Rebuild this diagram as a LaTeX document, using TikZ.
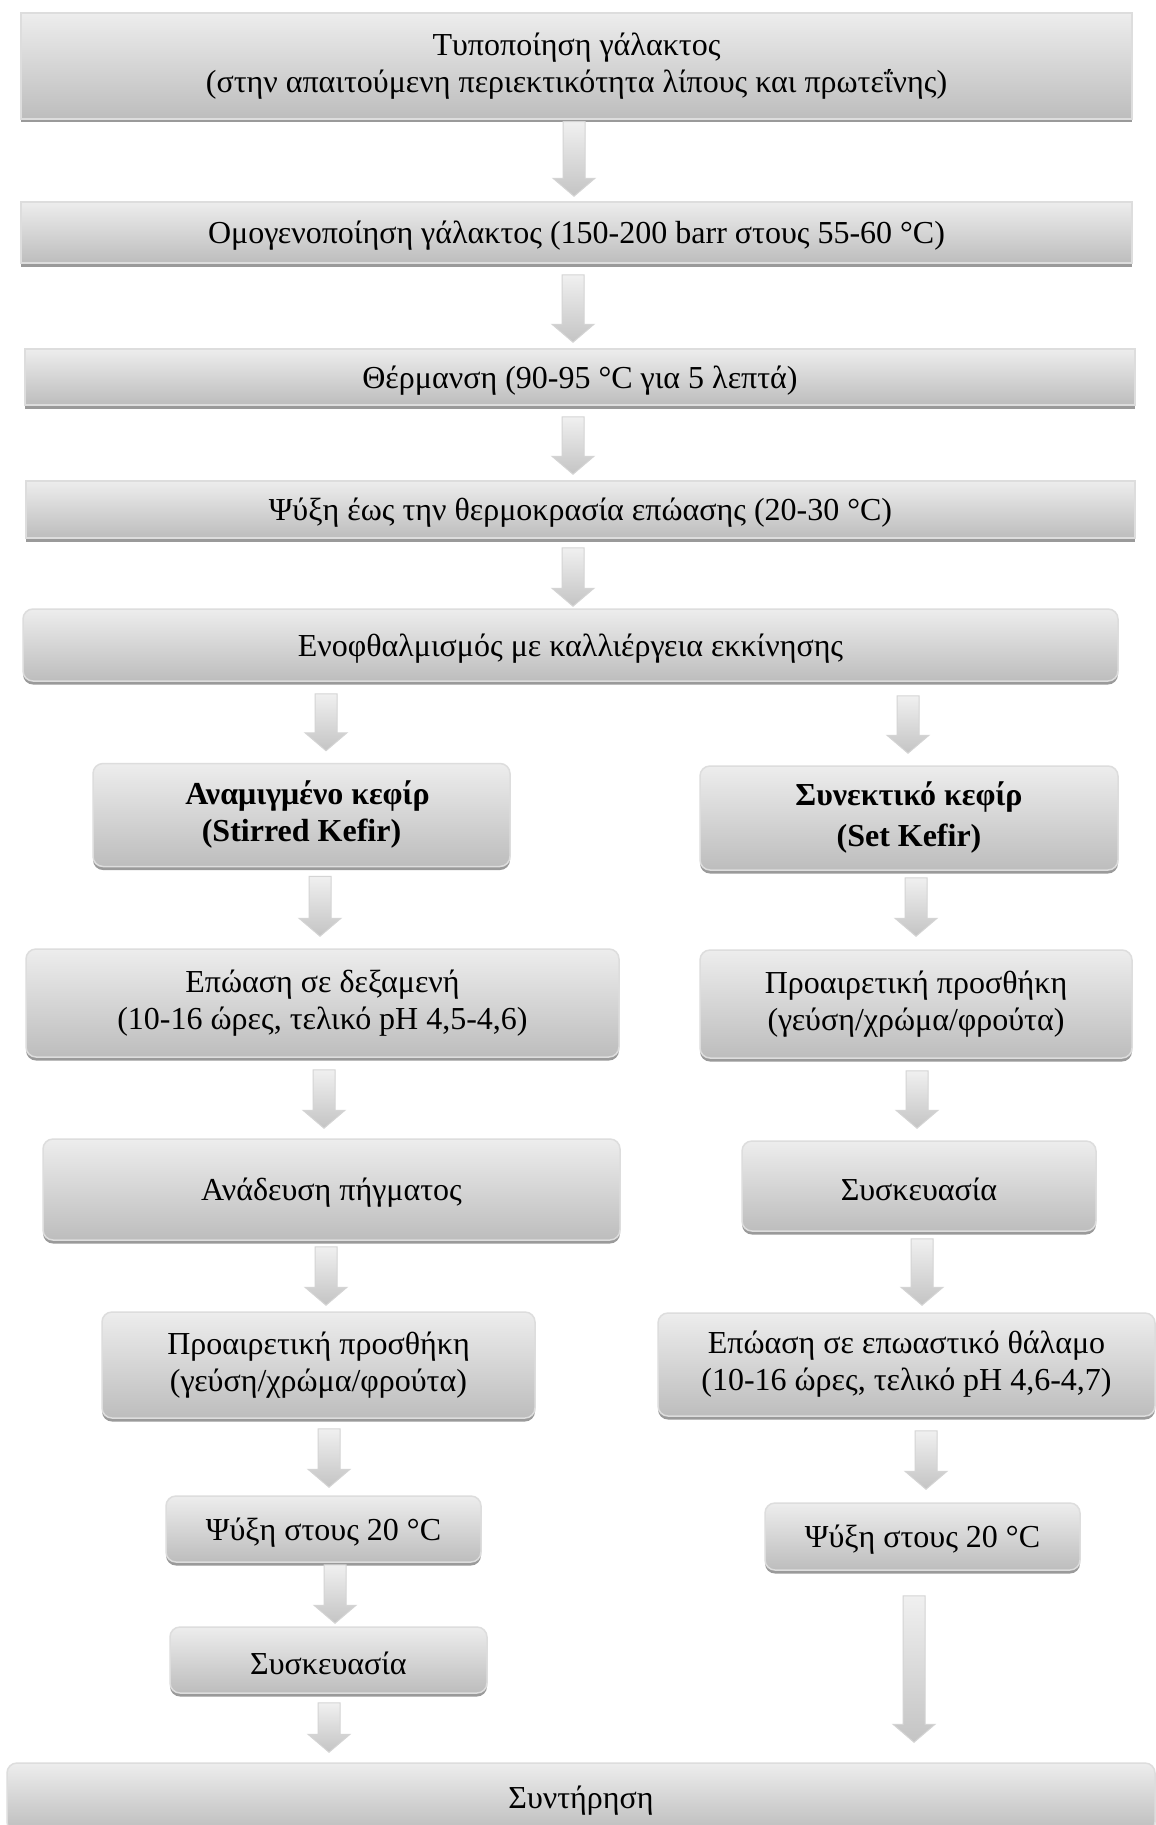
\documentclass[tikz,border=0pt]{standalone}
\usepackage{fontspec}
\setmainfont{Liberation Serif}
\usetikzlibrary{calc,shadows}
\definecolor{boxtop}{HTML}{EDEDED}
\definecolor{boxbot}{HTML}{BDBDBD}
\definecolor{boxedge}{HTML}{DDDDDD}
\definecolor{boxshade}{HTML}{9A9A9A}
\definecolor{arrtop}{HTML}{F0F0F0}
\definecolor{arrbot}{HTML}{C4C4C4}
\definecolor{arredge}{HTML}{D4D4D4}
\tikzset{
  stepbox/.style={draw=boxedge, line width=1.5pt, top color=boxtop, bottom color=boxbot,
    align=center, inner sep=0pt, font=\fontsize{32}{37}\selectfont,
    execute at begin node={\rule{0pt}{29pt}},
    general shadow={fill=boxshade, shadow yshift=-3.5pt}},
  flatbox/.style={stepbox, rectangle},
  roundbox/.style={stepbox, rounded corners=10pt},
  arrowbody/.style={draw=arredge, line width=1pt, top color=arrtop, bottom color=arrbot},
}
% block arrow: from node, to node, x position (pt), gap below source, gap above target
\newcommand\fatarrow[5]{%
  \path[arrowbody] let \p1=(#1.south), \p2=(#2.north) in
    (#3pt-11pt,\y1-#4pt) -- (#3pt+11pt,\y1-#4pt) -- (#3pt+11pt,\y2+#5pt+18pt)
    -- (#3pt+21pt,\y2+#5pt+18pt) -- (#3pt,\y2+#5pt) -- (#3pt-21pt,\y2+#5pt+18pt)
    -- (#3pt-11pt,\y2+#5pt+18pt) -- cycle;}
\begin{document}
\begin{tikzpicture}[x=1pt,y=-1pt]
\useasboundingbox (0,0) rectangle (1156,1825);
\fill[white] (0,0) rectangle (1156,1825);
\begin{scope}
\clip (0,0) rectangle (1156,1825);
% common trunk
\node[flatbox, minimum width=1111pt, minimum height=106pt] (b1) at (576.5,66)
  {Τυποποίηση γάλακτος\\(στην απαιτούμενη περιεκτικότητα λίπους και πρωτεΐνης)};
\node[flatbox, minimum width=1111pt, minimum height=61pt] (b2) at (576.5,232.5)
  {Ομογενοποίηση γάλακτος (150-200 barr στους 55-60 °C)};
\node[flatbox, minimum width=1110pt, minimum height=56pt] (b3) at (580,377)
  {Θέρμανση (90-95 °C για 5 λεπτά)};
\node[flatbox, minimum width=1109pt, minimum height=57pt] (b4) at (580.5,509.5)
  {Ψύξη έως την θερμοκρασία επώασης (20-30 °C)};
\node[roundbox, minimum width=1095pt, minimum height=72pt] (b5) at (570.5,645)
  {Ενοφθαλμισμός με καλλιέργεια εκκίνησης};
% stirred kefir branch
\node[roundbox, minimum width=417pt, minimum height=103pt, font=\fontsize{32}{37}\selectfont\bfseries] (l1) at (301.5,815)
  {\hspace*{12pt}Αναμιγμένο κεφίρ\\(Stirred Kefir)};
\node[roundbox, minimum width=593pt, minimum height=108pt] (l2) at (322.5,1003)
  {Επώαση σε δεξαμενή\\(10-16 ώρες, τελικό pH 4,5-4,6)};
\node[roundbox, minimum width=577pt, minimum height=101pt] (l3) at (331.5,1189.5)
  {Ανάδευση πήγματος};
\node[roundbox, minimum width=433pt, minimum height=106pt] (l4) at (318.5,1365)
  {Προαιρετική προσθήκη\\(γεύση/χρώμα/φρούτα)};
\node[roundbox, minimum width=315pt, minimum height=66pt] (l5) at (323.5,1529)
  {Ψύξη στους 20 °C};
\node[roundbox, minimum width=317pt, minimum height=66pt] (l6) at (328.5,1660)
  {Συσκευασία};
% set kefir branch
\node[roundbox, minimum width=418pt, minimum height=104pt, font=\fontsize{32}{41}\selectfont\bfseries] (r1) at (909,818)
  {Συνεκτικό κεφίρ\\(Set Kefir)};
\node[roundbox, minimum width=432pt, minimum height=108pt] (r2) at (916,1004)
  {Προαιρετική προσθήκη\\(γεύση/χρώμα/φρούτα)};
\node[roundbox, minimum width=354pt, minimum height=90pt] (r3) at (919,1186)
  {Συσκευασία};
\node[roundbox, minimum width=497pt, minimum height=103pt] (r4) at (906.5,1364.5)
  {Επώαση σε επωαστικό θάλαμο\\(10-16 ώρες, τελικό pH 4,6-4,7)};
\node[roundbox, minimum width=315pt, minimum height=67pt] (r5) at (922.5,1536.5)
  {Ψύξη στους 20 °C};
% storage
\node[roundbox, minimum width=1148pt, minimum height=69pt] (st) at (581,1797.5)
  {Συντήρηση};
% flow arrows
\fatarrow{b1}{b2}{574}{2}{5}
\fatarrow{b2}{b3}{573}{11}{6}
\fatarrow{b3}{b4}{573}{11}{6}
\fatarrow{b4}{b5}{573}{9}{2}
\fatarrow{b5}{l1}{326}{12}{12}
\fatarrow{b5}{r1}{908}{14}{12}
\fatarrow{l1}{l2}{320}{9}{12}
\fatarrow{l2}{l3}{324}{12}{10}
\fatarrow{l3}{l4}{326}{6}{6}
\fatarrow{l4}{l5}{329}{10}{8}
\fatarrow{l5}{l6}{335}{2}{3}
\fatarrow{l6}{st}{329}{9}{10}
\fatarrow{r1}{r2}{916}{7}{13}
\fatarrow{r2}{r3}{917}{12}{12}
\fatarrow{r3}{r4}{922}{7}{7}
\fatarrow{r4}{r5}{926}{14}{13}
\fatarrow{r5}{st}{914}{25}{20}
\end{scope}
\end{tikzpicture}
\end{document}
